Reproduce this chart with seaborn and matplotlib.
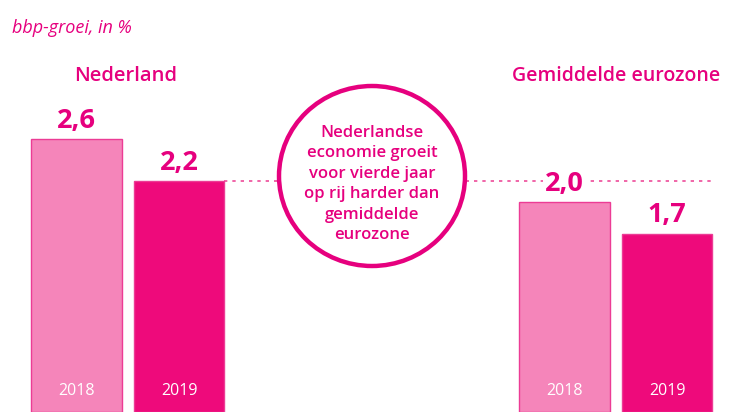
import matplotlib
matplotlib.use("Agg")
import matplotlib.pyplot as plt
from matplotlib.patches import Ellipse
import seaborn as sns
import pandas as pd

# ---- data ----
regions = ["Nederland", "Nederland", "Gemiddelde eurozone", "Gemiddelde eurozone"]
years = ["2018", "2019", "2018", "2019"]
values = [2.6, 2.2, 2.0, 1.7]
value_labels = ["2,6", "2,2", "2,0", "1,7"]
group_titles = ["Nederland", "Gemiddelde eurozone"]
subtitle = "bbp-groei, in %"
circle_text = "Nederlandse\neconomie groeit\nvoor vierde jaar\nop rij harder dan\ngemiddelde\neurozone"

# ---- layout (pixels) ----
W, H = 740, 420
BASE = 8            # baseline distance from bottom in px
PX_PER_UNIT = 105
centers = [76.5, 179.0, 564.5, 667.0]

LIGHT = "#F585BA"
DARK = "#EE0A7B"
TXT = "#E6007E"

sns.set_theme(style="white")
plt.rcParams["font.family"] = ["Open Sans", "DejaVu Sans"]

df = pd.DataFrame({"pos": centers, "value": values, "year": years, "region": regions})

fig = plt.figure(figsize=(W / 100, H / 100), dpi=100)
ax = fig.add_axes([0, BASE / H, 1, (H - BASE) / H])
sns.barplot(data=df, x="pos", y="value", hue="year", palette={"2018": LIGHT, "2019": DARK},
            native_scale=True, dodge=False, width=0.88, legend=False, saturation=1,
            ax=ax, zorder=2)
for patch in ax.patches:
    patch.set_edgecolor("#EC3C95")
    patch.set_linewidth(1.0)

ax.set_xlim(0, W)
ax.set_ylim(0, (H - BASE) / PX_PER_UNIT)
ax.axis("off")

def py(pix_from_top):
    return (H - BASE - pix_from_top) / PX_PER_UNIT

# dotted reference line at Nederland 2019 level
ax.plot([224, 712], [values[1], values[1]], linestyle=(0, (2, 3)), color="#EE4C9A",
        linewidth=1.2, zorder=1)

# circle
ell = Ellipse((372, py(176)), width=186, height=180 / PX_PER_UNIT, facecolor="white",
              edgecolor=TXT, linewidth=3.2, zorder=3)
ax.add_patch(ell)
ax.text(372, py(184), circle_text, ha="center", va="center", fontsize=12,
        fontweight="semibold", color=TXT, linespacing=1.38, zorder=4)

# value labels
for x, v, lab in zip(centers, values, value_labels):
    ax.text(x, v + 0.05, lab, ha="center", va="bottom", fontsize=19.5, fontweight="bold",
            color=TXT, zorder=4,
            bbox=dict(facecolor="white", edgecolor="none", pad=1.5))

# year labels inside bars
for x, yr in zip(centers, years):
    ax.text(x, 0.12, yr, ha="center", va="bottom", fontsize=11.5, color="white", zorder=4)

# group titles
fig.text(126 / W, 1 - 76 / H, group_titles[0], ha="center", va="center", fontsize=14.5,
         fontweight="semibold", color=TXT)
fig.text(616 / W, 1 - 76 / H, group_titles[1], ha="center", va="center", fontsize=14,
         fontweight="semibold", color=TXT)
fig.text(12 / W, 1 - 28 / H, subtitle, ha="left", va="center", fontsize=13,
         style="italic", color=TXT)

fig.savefig("out.png", dpi=100)
